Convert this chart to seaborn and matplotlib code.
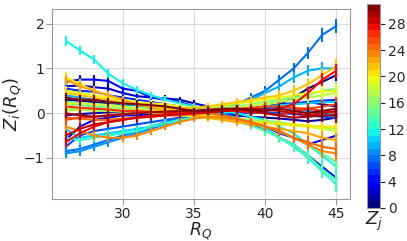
import numpy as np
import pandas as pd
import matplotlib
matplotlib.use("Agg")
import matplotlib.pyplot as plt
import seaborn as sns

# R_Q positions
r_q = [26, 27, 28, 29, 30, 31, 32, 33, 34, 35, 36, 37, 38, 39, 40, 41, 42, 43, 44, 45]

# Z_i(R_Q) for each j
z0 = [0.30, 0.28, 0.25, 0.22, 0.20, 0.18, 0.15, 0.12, 0.10, 0.08, 0.05, 0.03, 0.02, 0.05, 0.10, 0.20, 0.35, 0.55, 0.70, 0.85]
z1 = [-0.05, -0.02, 0.00, 0.02, 0.03, 0.02, 0.01, 0.02, 0.03, 0.02, 0.00, -0.02, -0.05, -0.08, -0.10, -0.12, -0.15, -0.18, -0.15, -0.10]
z2 = [0.60, 0.62, 0.58, 0.55, 0.45, 0.38, 0.35, 0.33, 0.30, 0.22, 0.15, 0.10, 0.08, 0.10, 0.15, 0.20, 0.22, 0.25, 0.20, 0.15]
z3 = [-0.60, -0.30, -0.15, -0.10, -0.05, -0.05, -0.02, 0.00, 0.00, 0.00, -0.02, -0.05, -0.12, -0.25, -0.35, -0.55, -0.70, -0.95, -1.20, -1.45]
z4 = [0.70, 0.75, 0.75, 0.72, 0.55, 0.50, 0.35, 0.30, 0.25, 0.15, 0.05, 0.00, -0.10, -0.20, -0.30, -0.45, -0.55, -0.70, -0.60, -0.50]
z5 = [0.55, 0.50, 0.48, 0.40, 0.35, 0.30, 0.25, 0.20, 0.15, 0.10, 0.08, 0.05, 0.05, 0.08, 0.10, 0.15, 0.20, 0.25, 0.28, 0.30]
z6 = [-0.75, -0.50, -0.40, -0.35, -0.30, -0.25, -0.20, -0.15, -0.10, -0.08, -0.05, -0.02, 0.00, 0.00, 0.02, 0.00, -0.02, -0.05, -0.08, -0.10]
z7 = [-0.85, -0.80, -0.70, -0.60, -0.50, -0.40, -0.30, -0.20, -0.10, 0.00, 0.05, 0.10, 0.20, 0.35, 0.50, 0.75, 1.00, 1.35, 1.75, 1.95]
z8 = [-0.90, -0.85, -0.75, -0.65, -0.55, -0.45, -0.35, -0.25, -0.18, -0.12, -0.05, 0.00, 0.05, 0.10, 0.15, 0.15, 0.10, 0.05, 0.00, -0.05]
z9 = [0.40, 0.35, 0.30, 0.25, 0.20, 0.18, 0.15, 0.12, 0.10, 0.08, 0.10, 0.15, 0.20, 0.30, 0.45, 0.60, 0.80, 0.95, 1.00, 1.00]
z10 = [-0.35, -0.55, -0.50, -0.45, -0.40, -0.35, -0.30, -0.25, -0.18, -0.10, -0.05, 0.00, 0.05, 0.10, 0.15, 0.18, 0.20, 0.22, 0.25, 0.25]
z11 = [1.62, 1.40, 1.20, 0.88, 0.67, 0.52, 0.40, 0.30, 0.22, 0.15, 0.10, 0.05, 0.00, -0.08, -0.15, -0.30, -0.45, -0.70, -0.95, -1.20]
z12 = [-0.55, -0.60, -0.55, -0.50, -0.45, -0.40, -0.30, -0.22, -0.15, -0.10, -0.05, -0.05, -0.10, -0.20, -0.35, -0.55, -0.75, -1.00, -1.30, -1.60]
z13 = [0.10, 0.12, 0.10, 0.08, 0.05, 0.03, 0.02, 0.00, -0.02, -0.05, -0.08, -0.12, -0.18, -0.28, -0.40, -0.55, -0.70, -0.95, -1.25, -1.50]
z14 = [0.20, 0.18, 0.15, 0.12, 0.10, 0.08, 0.05, 0.03, 0.02, 0.00, -0.03, -0.08, -0.12, -0.20, -0.30, -0.42, -0.55, -0.70, -0.90, -1.10]
z15 = [0.25, 0.22, 0.20, 0.18, 0.15, 0.12, 0.10, 0.08, 0.05, 0.05, 0.08, 0.12, 0.15, 0.20, 0.25, 0.30, 0.35, 0.40, 0.50, 0.55]
z16 = [0.10, 0.08, 0.05, 0.05, 0.03, 0.02, 0.00, -0.02, -0.05, -0.05, -0.08, -0.10, -0.12, -0.15, -0.18, -0.20, -0.25, -0.30, -0.32, -0.35]
z17 = [0.05, 0.08, 0.10, 0.10, 0.08, 0.05, 0.05, 0.03, 0.02, 0.05, 0.10, 0.15, 0.15, 0.18, 0.20, 0.25, 0.30, 0.35, 0.40, 0.45]
z18 = [0.20, 0.22, 0.20, 0.18, 0.15, 0.10, 0.05, 0.00, -0.05, -0.08, -0.12, -0.15, -0.18, -0.20, -0.22, -0.25, -0.28, -0.30, -0.35, -0.40]
z19 = [0.50, 0.45, 0.40, 0.35, 0.30, 0.25, 0.22, 0.20, 0.15, 0.12, 0.15, 0.18, 0.22, 0.25, 0.30, 0.35, 0.40, 0.45, 0.48, 0.50]
z20 = [0.80, 0.65, 0.50, 0.40, 0.30, 0.22, 0.15, 0.10, 0.05, 0.00, -0.05, -0.10, -0.15, -0.20, -0.22, -0.25, -0.25, -0.28, -0.30, -0.30]
z21 = [0.45, 0.40, 0.35, 0.30, 0.25, 0.20, 0.15, 0.10, 0.10, 0.12, 0.15, 0.20, 0.25, 0.30, 0.35, 0.40, 0.50, 0.65, 0.85, 1.05]
z22 = [0.75, 0.60, 0.50, 0.40, 0.30, 0.20, 0.12, 0.05, 0.00, -0.05, -0.10, -0.15, -0.20, -0.25, -0.30, -0.35, -0.40, -0.45, -0.55, -0.60]
z23 = [-0.30, -0.40, -0.50, -0.55, -0.55, -0.50, -0.40, -0.30, -0.20, -0.12, -0.08, -0.10, -0.15, -0.20, -0.30, -0.40, -0.55, -0.70, -0.85, -0.90]
z24 = [-0.10, -0.12, -0.15, -0.15, -0.12, -0.10, -0.08, -0.05, -0.05, -0.02, 0.00, -0.05, -0.12, -0.20, -0.30, -0.40, -0.55, -0.65, -0.75, -0.80]
z25 = [-0.15, -0.10, -0.08, -0.05, -0.03, 0.00, 0.02, 0.03, 0.05, 0.05, 0.05, 0.08, 0.10, 0.12, 0.15, 0.15, 0.12, 0.10, 0.15, 0.20]
z26 = [0.15, 0.12, 0.10, 0.08, 0.05, 0.05, 0.03, 0.03, 0.02, 0.00, 0.02, 0.05, 0.05, 0.02, 0.00, -0.05, 0.05, 0.10, 0.05, 0.00]
z27 = [-0.65, -0.45, -0.30, -0.20, -0.15, -0.10, -0.05, -0.02, 0.00, 0.00, 0.02, 0.05, 0.05, 0.03, 0.05, 0.10, 0.20, 0.45, 0.75, 0.95]
z28 = [-0.50, -0.35, -0.25, -0.20, -0.15, -0.10, -0.08, -0.05, -0.03, 0.00, 0.02, 0.05, 0.08, 0.10, 0.08, 0.05, 0.00, -0.05, 0.00, 0.05]
z29 = [0.00, -0.05, -0.08, -0.05, -0.02, 0.00, 0.02, 0.03, 0.05, 0.05, 0.08, 0.10, 0.10, 0.05, 0.00, -0.05, -0.10, -0.08, -0.05, -0.05]
z30 = [0.35, 0.30, 0.30, 0.25, 0.22, 0.20, 0.18, 0.15, 0.10, 0.05, 0.05, 0.08, 0.10, 0.08, 0.05, 0.10, 0.05, 0.00, 0.05, 0.10]

# error bar half-length at each R_Q
err = [0.11, 0.11, 0.10, 0.10, 0.09, 0.09, 0.08, 0.08, 0.07, 0.07, 0.07, 0.08, 0.08, 0.09, 0.10, 0.11, 0.12, 0.13, 0.15, 0.16]

series = [z0, z1, z2, z3, z4, z5, z6, z7, z8, z9, z10, z11, z12, z13, z14, z15,
          z16, z17, z18, z19, z20, z21, z22, z23, z24, z25, z26, z27, z28, z29, z30]

rows = []
for j, z in enumerate(series):
    for x, v, e in zip(r_q, z, err):
        rows.append({"R_Q": x, "Z": v, "err": e, "j": j})
df = pd.DataFrame(rows)

sns.set_style("whitegrid", {"axes.edgecolor": "0.6", "grid.color": "0.85",
                            "xtick.bottom": True, "ytick.left": True})

n = len(series)
cmap = plt.get_cmap("jet", n)
palette = {j: cmap(j) for j in range(n)}

fig = plt.figure(figsize=(4.07, 2.41), dpi=100)
ax = fig.add_axes([0.128, 0.174, 0.732, 0.789])
cax = fig.add_axes([0.902, 0.137, 0.032, 0.846])

sns.lineplot(data=df, x="R_Q", y="Z", hue="j", palette=palette, legend=False,
             linewidth=1.5, ax=ax)
for j, g in df.groupby("j"):
    ax.errorbar(g["R_Q"], g["Z"], yerr=g["err"], fmt="none",
                ecolor=palette[j], elinewidth=1.5, capsize=0)

ax.set_ylim(-1.92, 2.33)
ax.set_xticks([30, 35, 40, 45])
ax.set_yticks([-1, 0, 1, 2])
ax.set_yticklabels(["\u22121", "0", "1", "2"])
ax.tick_params(labelsize=10, length=4, color="0.6", pad=1.5)
ax.set_xlabel("$R_Q$", fontsize=12.5, labelpad=0)
ax.set_ylabel("$Z_i(R_Q)$", fontsize=13, labelpad=0)

sm = matplotlib.cm.ScalarMappable(cmap=cmap, norm=plt.Normalize(0, n))
cbar = fig.colorbar(sm, cax=cax, ticks=[0, 4, 8, 12, 16, 20, 24, 28])
cbar.ax.tick_params(labelsize=10, pad=2)
cbar.outline.set_edgecolor("0.6")
cbar.ax.set_xlabel("$Z_j$", fontsize=13, labelpad=1)

fig.savefig("out.png", dpi=100)
